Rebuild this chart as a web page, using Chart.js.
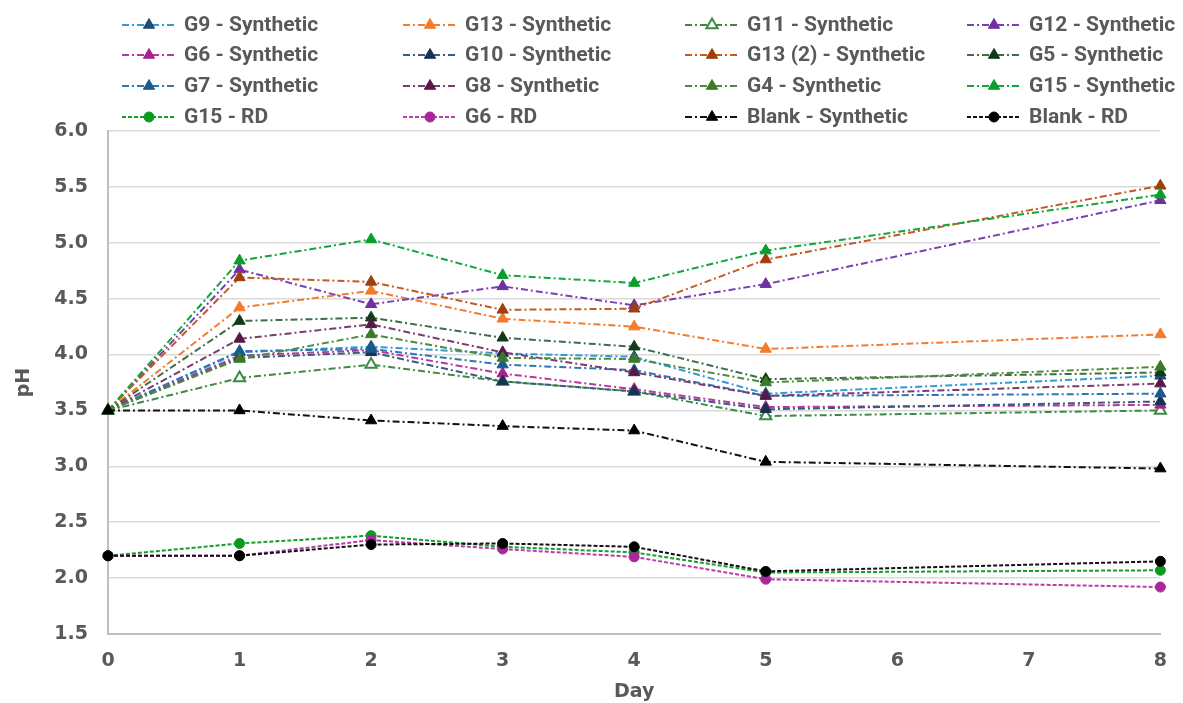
<!DOCTYPE html>
<html>
<head>
<meta charset="utf-8">
<script src="https://cdn.jsdelivr.net/npm/chart.js@4.4.0/dist/chart.umd.min.js"></script>
<style>
  html, body { margin: 0; padding: 0; background: #fff; }
  #wrap { width: 1183px; height: 703px; }
</style>
</head>
<body>
<div id="wrap"><canvas id="grafico"></canvas></div>
<script>
// dias de medição
const dias = [0, 1, 2, 3, 4, 5, 8];

// series (pH)
const g9Synth     = [3.5, 4.02, 4.07, 4.01, 3.98, 3.65, 3.81];
const g13Synth    = [3.5, 4.42, 4.57, 4.32, 4.25, 4.05, 4.18];
const g11Synth    = [3.5, 3.79, 3.91, 3.76, 3.67, 3.45, 3.50];
const g12Synth    = [3.5, 4.76, 4.45, 4.61, 4.44, 4.63, 5.38];
const g6Synth     = [3.5, 3.99, 4.04, 3.83, 3.69, 3.53, 3.55];
const g10Synth    = [3.5, 3.97, 4.02, 3.76, 3.67, 3.51, 3.58];
const g13bSynth   = [3.5, 4.69, 4.65, 4.40, 4.41, 4.85, 5.51];
const g5Synth     = [3.5, 4.30, 4.33, 4.15, 4.07, 3.78, 3.84];
const g7Synth     = [3.5, 4.03, 4.05, 3.91, 3.86, 3.63, 3.65];
const g8Synth     = [3.5, 4.14, 4.27, 4.02, 3.84, 3.63, 3.74];
const g4Synth     = [3.5, 3.96, 4.18, 3.97, 3.96, 3.75, 3.89];
const g15Synth    = [3.5, 4.84, 5.03, 4.71, 4.64, 4.93, 5.43];
const g15RD       = [2.2, 2.31, 2.38, 2.28, 2.23, 2.05, 2.07];
const g6RD        = [2.2, 2.20, 2.34, 2.26, 2.19, 1.99, 1.92];
const blankSynth  = [3.5, 3.50, 3.41, 3.36, 3.32, 3.04, 2.98];
const blankRD     = [2.2, 2.20, 2.30, 2.31, 2.28, 2.06, 2.15];

const nomes = [
  "G9 - Synthetic", "G13 - Synthetic", "G11 - Synthetic", "G12 - Synthetic",
  "G6 - Synthetic", "G10 - Synthetic", "G13 (2) - Synthetic", "G5 - Synthetic",
  "G7 - Synthetic", "G8 - Synthetic", "G4 - Synthetic", "G15 - Synthetic",
  "G15 - RD", "G6 - RD", "Blank - Synthetic", "Blank - RD"
];
const valores = [
  g9Synth, g13Synth, g11Synth, g12Synth,
  g6Synth, g10Synth, g13bSynth, g5Synth,
  g7Synth, g8Synth, g4Synth, g15Synth,
  g15RD, g6RD, blankSynth, blankRD
];
const yTicks = [1.5, 2.0, 2.5, 3.0, 3.5, 4.0, 4.5, 5.0, 5.5, 6.0];

// estilo: [cor da linha, cor do marcador, tipo]
const estilos = [
  ["#2f9bd8", "#1f4e79", "syn"],
  ["#f47a2c", "#f47a2c", "syn"],
  ["#3d8a45", "#3d8a45", "open"],
  ["#7a3fb0", "#7030a0", "syn"],
  ["#b8369f", "#a8208f", "syn"],
  ["#3b5c7c", "#15324f", "syn"],
  ["#c25a22", "#9e3f0c", "syn"],
  ["#3f6d48", "#123a18", "syn"],
  ["#2c78b6", "#1b5a8c", "syn"],
  ["#7b3a70", "#5a1848", "syn"],
  ["#4f8b3c", "#3a7b27", "syn"],
  ["#10a838", "#08a02a", "syn"],
  ["#12a02a", "#0a9a1e", "rd"],
  ["#b83da8", "#a8289a", "rd"],
  ["#111111", "#000000", "syn"],
  ["#111111", "#000000", "rd"]
];

const dashSyn = [7, 3, 2, 3];
const dashRD = [4, 2];

const datasets = valores.map((v, i) => {
  const [linha, marca, tipo] = estilos[i];
  const rd = tipo === "rd";
  return {
    label: nomes[i],
    data: dias.map((d, k) => ({ x: d, y: v[k] })),
    borderColor: linha,
    borderWidth: 2,
    borderDash: rd ? dashRD : dashSyn,
    pointStyle: rd ? "circle" : "triangle",
    pointRadius: rd ? 5 : 6.5,
    pointBackgroundColor: tipo === "open" ? "#ffffff" : marca,
    pointBorderColor: marca,
    pointBorderWidth: tipo === "open" ? 2 : 1,
    tension: 0,
    order: -i,
    clip: false
  };
});

// legenda em 4 colunas, como no original
const legendaColunas = [122, 403, 685, 967];
const legendaLinhas = [25, 55, 86, 117];

const legendaPlugin = {
  id: "legendaGrade",
  afterDraw(chart) {
    const ctx = chart.ctx;
    chart.data.datasets.forEach((ds, i) => {
      const x0 = legendaColunas[i % 4];
      const y = legendaLinhas[Math.floor(i / 4)];
      ctx.save();
      ctx.strokeStyle = ds.borderColor;
      ctx.lineWidth = 2;
      ctx.setLineDash(ds.borderDash);
      ctx.beginPath();
      ctx.moveTo(x0, y);
      ctx.lineTo(x0 + 54, y);
      ctx.stroke();
      ctx.setLineDash([]);
      ctx.fillStyle = ds.pointBackgroundColor;
      ctx.strokeStyle = ds.pointBorderColor;
      ctx.lineWidth = ds.pointBorderWidth;
      Chart.helpers.drawPoint(ctx, {
        pointStyle: ds.pointStyle,
        radius: ds.pointStyle === "circle" ? 5 : 6.5,
        borderWidth: ds.pointBorderWidth,
        rotation: 0
      }, x0 + 27, y);
      ctx.fillStyle = "#595959";
      ctx.font = "bold 21px Roboto, 'Liberation Sans', sans-serif";
      ctx.textBaseline = "middle";
      ctx.textAlign = "left";
      ctx.fillText(ds.label, x0 + 62, y + 1);
      ctx.restore();
    });
  }
};

const ctx = document.getElementById("grafico").getContext("2d");
const fonteEixo = { family: "'DejaVu Sans', sans-serif", size: 19, weight: "bold" };

new Chart(ctx, {
  type: "line",
  data: { datasets },
  plugins: [legendaPlugin],
  options: {
    responsive: true,
    maintainAspectRatio: false,
    animation: false,
    layout: { padding: { top: 131, right: 13, left: 0, bottom: 0 } },
    plugins: {
      legend: { display: false },
      tooltip: { enabled: false }
    },
    scales: {
      x: {
        type: "linear",
        min: 0,
        max: 8,
        afterFit: s => { s.height = 69; },
        ticks: {
          stepSize: 1,
          padding: 16,
          color: "#595959",
          font: fonteEixo
        },
        grid: { display: false, drawTicks: false },
        border: { display: true, color: "#bfbfbf", width: 2 },
        title: {
          display: true,
          text: "Day",
          color: "#595959",
          font: fonteEixo,
          padding: { top: 1, bottom: 0 }
        }
      },
      y: {
        min: 1.5,
        max: 6.0,
        afterFit: s => { s.width = 108; },
        afterBuildTicks: s => { s.ticks = yTicks.map(v => ({ value: v })); },
        ticks: {
          padding: 20,
          color: "#595959",
          font: fonteEixo,
          callback: v => v.toFixed(1)
        },
        grid: { color: "#d9d9d9", lineWidth: 1.5, drawTicks: false },
        border: { display: true, color: "#bfbfbf", width: 2 },
        title: {
          display: true,
          text: "pH",
          color: "#595959",
          font: fonteEixo,
          padding: { top: 13, bottom: 0 }
        }
      }
    }
  }
});
</script>
</body>
</html>
